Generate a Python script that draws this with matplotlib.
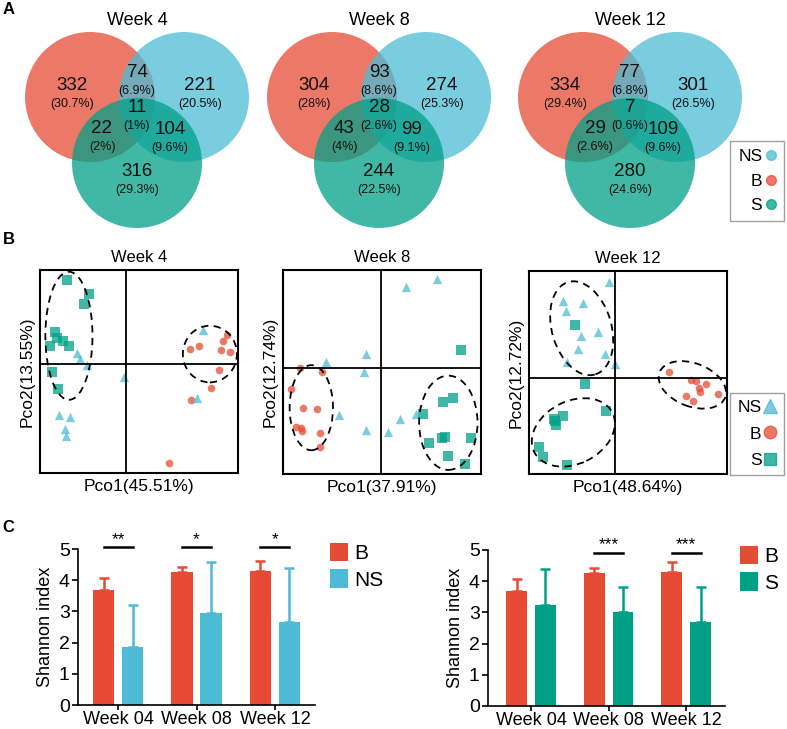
import numpy as np
import matplotlib
matplotlib.use("Agg")
import matplotlib.pyplot as plt
from matplotlib.patches import Circle, Ellipse
from matplotlib.lines import Line2D

plt.rcParams['font.family'] = ['Liberation Sans', 'DejaVu Sans']

W, H = 787, 729

# colores (paleta NPG)
c_b = '#E64B35'
c_ns = '#4DBBD5'
c_s = '#00A087'

# ---------------- datos A: diagramas de Venn ----------------
venn_titles = ['Week 4', 'Week 8', 'Week 12']
# orden: B, B&NS, NS, todos, B&S, NS&S, S
w4_counts = [332, 74, 221, 11, 22, 104, 316]
w4_pcts = ['30.7%', '6.9%', '20.5%', '1%', '2%', '9.6%', '29.3%']
w8_counts = [304, 93, 274, 28, 43, 99, 244]
w8_pcts = ['28%', '8.6%', '25.3%', '2.6%', '4%', '9.1%', '22.5%']
w12_counts = [334, 77, 301, 7, 29, 109, 280]
w12_pcts = ['29.4%', '6.8%', '26.5%', '0.6%', '2.6%', '9.6%', '24.6%']

# ---------------- datos B: PCoA ----------------
pco1_labels = ['Pco1(45.51%)', 'Pco1(37.91%)', 'Pco1(48.64%)']
pco2_labels = ['Pco2(13.55%)', 'Pco2(12.74%)', 'Pco2(12.72%)']

w4_ns_x = [-0.245, -0.231, -0.197, -0.007, -0.336, -0.282, -0.307, -0.300, 0.390, 0.359]
w4_ns_y = [0.052, 0.025, -0.005, -0.066, -0.254, -0.264, -0.320, -0.354, 0.167, -0.169]
w4_b_x = [0.511, 0.489, 0.368, 0.325, 0.482, 0.526, 0.469, 0.433, 0.329, 0.216]
w4_b_y = [0.143, 0.113, 0.090, 0.072, 0.069, 0.057, -0.030, -0.120, -0.180, -0.489]
w4_s_x = [-0.295, -0.184, -0.211, -0.357, -0.346, -0.315, -0.383, -0.285, -0.371, -0.341]
w4_s_y = [0.413, 0.343, 0.293, 0.156, 0.126, 0.113, 0.090, 0.090, -0.041, -0.123]

w8_ns_x = [0.126, 0.283, -0.275, -0.074, -0.084, -0.212, -0.074, 0.034, 0.096, 0.179]
w8_ns_y = [0.394, 0.433, 0.029, 0.065, -0.023, -0.232, -0.307, -0.314, -0.252, -0.229]
w8_b_x = [-0.406, -0.297, -0.452, -0.393, -0.320, -0.427, -0.401, -0.396, -0.307, -0.305]
w8_b_y = [-0.003, -0.023, -0.106, -0.199, -0.203, -0.289, -0.294, -0.309, -0.319, -0.391]
w8_s_x = [0.405, 0.211, 0.315, 0.364, 0.454, 0.243, 0.307, 0.324, 0.337, 0.425]
w8_s_y = [0.087, -0.229, -0.167, -0.147, -0.343, -0.368, -0.343, -0.338, -0.433, -0.474]

w12_ns_x = [-0.030, -0.265, -0.164, -0.248, -0.084, -0.172, -0.189, -0.051, -0.241, -0.003]
w12_ns_y = [0.469, 0.379, 0.366, 0.328, 0.223, 0.207, 0.139, 0.115, 0.079, 0.066]
w12_b_x = [0.273, 0.383, 0.406, 0.459, 0.422, 0.430, 0.358, 0.393, 0.521]
w12_b_y = [0.028, -0.011, -0.016, -0.030, -0.049, -0.070, -0.090, -0.115, -0.080]
w12_s_x = [-0.202, -0.152, -0.047, -0.265, -0.307, -0.300, -0.384, -0.363, -0.241, -0.304]
w12_s_y = [0.259, -0.033, -0.164, -0.189, -0.203, -0.236, -0.344, -0.389, -0.430, -0.213]

# elipses de grupo: (x, y, ancho, alto, angulo)
w4_ellipses = [(-0.287, 0.138, 0.238, 0.631, 0), (0.425, 0.048, 0.273, 0.279, 0)]
w8_ellipses = [(-0.351, -0.196, 0.219, 0.417, 0), (0.341, -0.270, 0.295, 0.462, 0)]
w12_ellipses = [(-0.169, 0.243, 0.30, 0.475, 17), (-0.211, -0.270, 0.44, 0.31, 25),
                (0.390, -0.036, 0.354, 0.213, -20)]

# ---------------- datos C: indice de Shannon ----------------
week_labels = ['Week 04', 'Week 08', 'Week 12']
shannon_b = [3.70, 4.25, 4.30]
shannon_b_err = [0.37, 0.18, 0.32]
shannon_ns = [1.85, 2.95, 2.65]
shannon_ns_err = [1.35, 1.62, 1.73]
shannon_s = [3.25, 3.00, 2.70]
shannon_s_err = [1.15, 0.80, 1.10]
sig_ns = ['**', '*', '*']
sig_s = ['', '***', '***']


fig = plt.figure(figsize=(W / 100, H / 100), dpi=100)


def px_axes(x0, y0, x1, y1):
    # crea unos ejes a partir de una caja en pixeles (origen arriba a la izquierda)
    return fig.add_axes([x0 / W, 1 - y1 / H, (x1 - x0) / W, (y1 - y0) / H])


# ---------- A ----------
axv = fig.add_axes([0, 0, 1, 1], zorder=0)
axv.set_xlim(0, W)
axv.set_ylim(H, 0)
axv.axis('off')

venn_cx = [137, 379, 630]
cy = 97
r = 65
# posiciones de etiquetas respecto al centro (numero, porcentaje)
lab_off = [(-65, -12), (0, -25), (63, -12), (0, 10), (-35, 31), (33, 32), (0, 74)]
for cx, title, counts, pcts in zip(venn_cx, venn_titles,
                                   [w4_counts, w8_counts, w12_counts],
                                   [w4_pcts, w8_pcts, w12_pcts]):
    axv.add_patch(Circle((cx - 47, cy), r, fc=c_b, alpha=0.75, ec='none'))
    axv.add_patch(Circle((cx + 47, cy), r, fc=c_ns, alpha=0.75, ec='none'))
    axv.add_patch(Circle((cx, cy + 66), r, fc=c_s, alpha=0.75, ec='none'))
    axv.text(cx, 20, title, fontsize=13, ha='center', va='center')
    for (dx, dy), n, p in zip(lab_off, counts, pcts):
        axv.text(cx + dx, cy + dy, str(n), fontsize=13.5, ha='center', va='center', color='#111111')
        axv.text(cx + dx, cy + dy + 19, '(' + p + ')', fontsize=9, ha='center', va='center', color='#111111')

venn_handles = [Line2D([], [], ls='none', marker='o', ms=7, color=c, alpha=0.75) for c in [c_ns, c_b, c_s]]
leg = fig.legend(venn_handles, ['NS', 'B', 'S'], loc='upper right', bbox_to_anchor=(784 / W, 1 - 141 / H),
                 markerfirst=False, fontsize=12.5, frameon=True, fancybox=False, edgecolor='#888888',
                 handlelength=0.6, handletextpad=0.2, labelspacing=0.55, borderpad=0.45, borderaxespad=0)
leg.get_frame().set_linewidth(1)

# ---------- B ----------
pcoa_boxes = [(40, 270, 238, 473), (283, 270, 481, 474), (529, 271, 727, 474)]
pcoa_xlim = [(-0.433, 0.567), (-0.494, 0.506), (-0.435, 0.565)]
pcoa_ylim = [(-0.538, 0.462), (-0.521, 0.479), (-0.475, 0.525)]
pcoa_data = [
    (w4_ns_x, w4_ns_y, w4_b_x, w4_b_y, w4_s_x, w4_s_y, w4_ellipses),
    (w8_ns_x, w8_ns_y, w8_b_x, w8_b_y, w8_s_x, w8_s_y, w8_ellipses),
    (w12_ns_x, w12_ns_y, w12_b_x, w12_b_y, w12_s_x, w12_s_y, w12_ellipses),
]
for i in range(3):
    ax = px_axes(*pcoa_boxes[i])
    nsx, nsy, bx, by, sx, sy, ells = pcoa_data[i]
    ax.scatter(sx, sy, marker='s', s=42, color=c_s, alpha=0.75, linewidths=0)
    ax.scatter(bx, by, marker='o', s=30, color=c_b, alpha=0.75, linewidths=0)
    ax.scatter(nsx, nsy, marker='^', s=45, color=c_ns, alpha=0.75, linewidths=0)
    for ex, ey, ew, eh, ang in ells:
        ax.add_patch(Ellipse((ex, ey), ew, eh, angle=ang, fill=False, ls=(0, (4, 3)), lw=1.3, ec='black'))
    ax.axhline(0, color='black', lw=1.3)
    ax.axvline(0, color='black', lw=1.3)
    ax.set_xlim(pcoa_xlim[i])
    ax.set_ylim(pcoa_ylim[i])
    ax.set_xticks([])
    ax.set_yticks([])
    for sp in ax.spines.values():
        sp.set_linewidth(1.5)
    ax.set_title(venn_titles[i], fontsize=12, pad=6)
    ax.set_xlabel(pco1_labels[i], fontsize=12.5, labelpad=4)
    ax.set_ylabel(pco2_labels[i], fontsize=12.5, labelpad=4)

pcoa_handles = [Line2D([], [], ls='none', marker='^', ms=10, color=c_ns, alpha=0.75),
                Line2D([], [], ls='none', marker='o', ms=9, color=c_b, alpha=0.75),
                Line2D([], [], ls='none', marker='s', ms=9, color=c_s, alpha=0.75)]
leg = fig.legend(pcoa_handles, ['NS', 'B', 'S'], loc='upper right', bbox_to_anchor=(784 / W, 1 - 393 / H),
                 markerfirst=False, fontsize=12.5, frameon=True, fancybox=False, edgecolor='#888888',
                 handlelength=0.8, handletextpad=0.1, labelspacing=0.65, borderpad=0.4, borderaxespad=0)
leg.get_frame().set_linewidth(1)

# ---------- C ----------
bar_boxes = [(78, 549, 315, 705), (488, 550, 725, 706)]
bar_xlim = [(-0.51, 2.51), (-0.555, 2.50)]
second = [(shannon_ns, shannon_ns_err, c_ns, 'NS', sig_ns, 5.05),
          (shannon_s, shannon_s_err, c_s, 'S', sig_s, 4.9)]
legend_pos = [(330, 543), (740, 546)]
x = np.arange(len(week_labels))
off = 0.185
bw = 0.27
for i in range(2):
    ax = px_axes(*bar_boxes[i])
    vals, errs, col, lab, sig, sig_y = second[i]
    ax.bar(x - off, shannon_b, bw, color=c_b, label='B',
           yerr=[np.zeros(3), shannon_b_err], ecolor=c_b,
           error_kw=dict(elinewidth=1.8, capsize=3.6, capthick=1.8))
    ax.bar(x + off, vals, bw, color=col, label=lab,
           yerr=[np.zeros(3), errs], ecolor=col,
           error_kw=dict(elinewidth=1.8, capsize=3.6, capthick=1.8))
    for j, s in enumerate(sig):
        if s:
            ax.plot([j - off, j + off], [sig_y, sig_y], color='black', lw=1.8, clip_on=False)
            ax.text(j, sig_y + 0.02, s, fontsize=12.5, ha='center', va='bottom', clip_on=False)
    ax.set_xlim(bar_xlim[i])
    ax.set_ylim(0, 5)
    ax.set_yticks([0, 1, 2, 3, 4, 5])
    ax.set_xticks(x)
    ax.set_xticklabels(week_labels)
    ax.tick_params(axis='y', labelsize=14, width=1.2, length=4, pad=2)
    ax.tick_params(axis='x', labelsize=13, width=1.2, length=3.5, pad=0.5)
    ax.spines['top'].set_visible(False)
    ax.spines['right'].set_visible(False)
    ax.spines['left'].set_linewidth(1.2)
    ax.spines['bottom'].set_linewidth(1.2)
    ax.set_ylabel('Shannon index', fontsize=13, labelpad=3)
    lx, ly = legend_pos[i]
    ax.legend(loc='upper left', bbox_to_anchor=(lx / W, 1 - ly / H), bbox_transform=fig.transFigure,
              frameon=False, fontsize=15, borderpad=0, borderaxespad=0, handlelength=0.87,
              handleheight=0.96, handletextpad=0.3, labelspacing=0.3)

fig.text(9 / W, 1 - 10 / H, 'A', fontsize=12, fontweight='bold', ha='center', va='center')
fig.text(9 / W, 1 - 239 / H, 'B', fontsize=12, fontweight='bold', ha='center', va='center')
fig.text(8 / W, 1 - 527 / H, 'C', fontsize=12, fontweight='bold', ha='center', va='center')

fig.savefig('out.png', dpi=100)
